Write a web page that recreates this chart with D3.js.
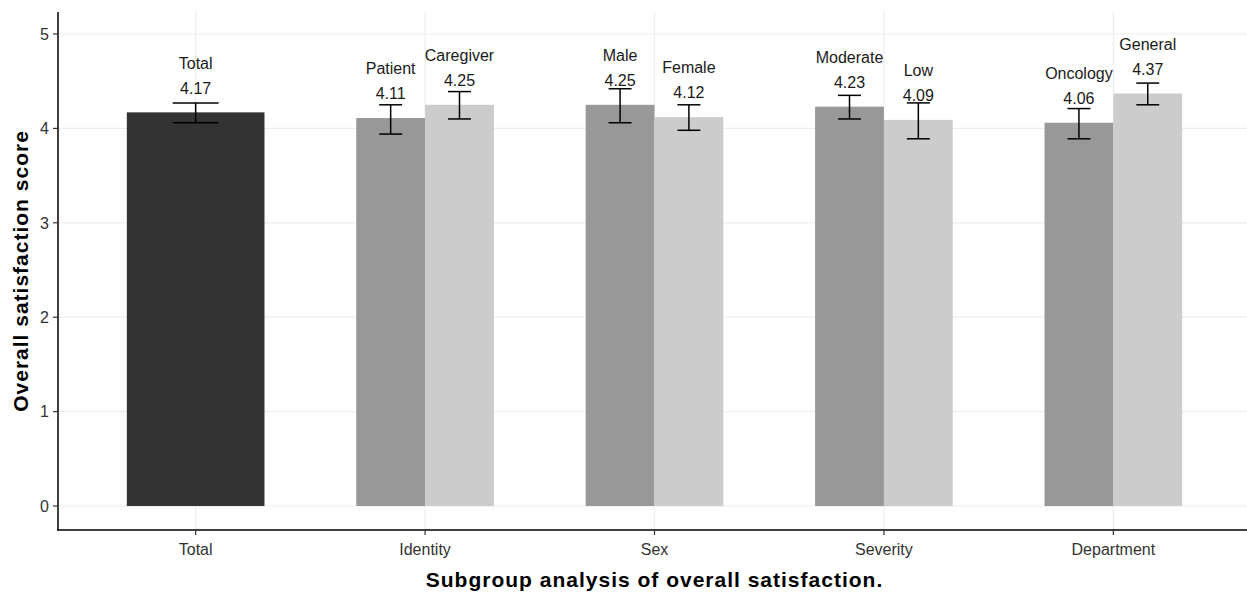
<!DOCTYPE html>
<html>
<head>
<meta charset="utf-8">
<script src="https://cdn.jsdelivr.net/npm/d3@7"></script>
<style>
  html, body { margin: 0; padding: 0; background: #fff; }
  svg { display: block; font-family: "Liberation Sans", Arial, sans-serif; }
</style>
</head>
<body>
<svg id="chart" width="1247" height="596"></svg>
<script>
// Subgroup categories along the x axis
const groups = ["Total", "Identity", "Sex", "Severity", "Department"];

// One entry per bar
const levels    = ["Total", "Patient", "Caregiver", "Male", "Female", "Moderate", "Low", "Oncology", "General"];
const levelGroup = ["Total", "Identity", "Identity", "Sex", "Sex", "Severity", "Severity", "Department", "Department"];
const levelFill  = ["overall", "first", "second", "first", "second", "first", "second", "first", "second"];
const means = [4.17, 4.11, 4.25, 4.25, 4.12, 4.23, 4.09, 4.06, 4.37];
const lower = [4.06, 3.94, 4.10, 4.06, 3.98, 4.10, 3.89, 3.89, 4.25];
const upper = [4.27, 4.25, 4.39, 4.42, 4.25, 4.35, 4.27, 4.21, 4.48];

const yTicks = [0, 1, 2, 3, 4, 5];

const fillColors = { overall: "#333333", first: "#989898", second: "#cccccc" };

const svg = d3.select("#chart");
const panel = { left: 58, right: 1251, top: 12, bottom: 530 };

const x = d3.scalePoint()
  .domain(groups)
  .range([panel.left, panel.right])
  .padding(0.6);
const step = x.step();

const y = d3.scaleLinear()
  .domain([-0.254, 5.233])
  .range([panel.bottom, panel.top]);

// Build bar records: position within its group (dodged pairs share one slot)
const bars = levels.map((name, i) => {
  const g = levelGroup[i];
  const members = levels.filter((_, j) => levelGroup[j] === g);
  const k = members.indexOf(name);
  const n = members.length;
  const total = step * 0.6;
  const w = total / n;
  const x0 = x(g) - total / 2 + k * w;
  return { name, group: g, fill: levelFill[i], mean: means[i], lo: lower[i], hi: upper[i], x0, w, n };
});

// Grid lines
const grid = svg.append("g");
grid.selectAll("line.gy").data(yTicks).join("line")
  .attr("x1", panel.left).attr("x2", 1247)
  .attr("y1", d => y(d)).attr("y2", d => y(d))
  .attr("stroke", "#ededed").attr("stroke-width", 1.2);
grid.selectAll("line.gx").data(groups).join("line")
  .attr("x1", d => x(d)).attr("x2", d => x(d))
  .attr("y1", panel.top).attr("y2", panel.bottom)
  .attr("stroke", "#ededed").attr("stroke-width", 1.2);

// Bars
svg.append("g").selectAll("rect").data(bars).join("rect")
  .attr("x", d => d.x0)
  .attr("width", d => d.w)
  .attr("y", d => y(d.mean))
  .attr("height", d => y(0) - y(d.mean))
  .attr("fill", d => fillColors[d.fill]);

// Error bars
const eb = svg.append("g").attr("stroke", "#000").attr("stroke-width", 1.5).attr("fill", "none");
bars.forEach(d => {
  const cx = d.x0 + d.w / 2;
  const half = (step * 0.2 / d.n) / 2;
  eb.append("line").attr("x1", cx).attr("x2", cx).attr("y1", y(d.lo)).attr("y2", y(d.hi));
  eb.append("line").attr("x1", cx - half).attr("x2", cx + half).attr("y1", y(d.hi)).attr("y2", y(d.hi));
  eb.append("line").attr("x1", cx - half).attr("x2", cx + half).attr("y1", y(d.lo)).attr("y2", y(d.lo));
});

// Value and name labels above each bar
const lab = svg.append("g").attr("text-anchor", "middle").attr("fill", "#1a1a1a").attr("font-size", 16);
bars.forEach(d => {
  const cx = d.x0 + d.w / 2;
  const vy = y(d.mean + 0.26);
  lab.append("text").attr("x", cx).attr("y", vy).attr("dy", "0.36em").text(d.mean.toFixed(2));
  lab.append("text").attr("x", cx).attr("y", vy - 25).attr("dy", "0.36em").text(d.name);
});

// Axes
const yAxis = svg.append("g");
yAxis.append("line").attr("x1", panel.left).attr("x2", panel.left)
  .attr("y1", panel.top).attr("y2", panel.bottom + 0.75)
  .attr("stroke", "#000").attr("stroke-width", 1.5);
yAxis.selectAll("line.t").data(yTicks).join("line")
  .attr("x1", panel.left - 5).attr("x2", panel.left)
  .attr("y1", d => y(d)).attr("y2", d => y(d))
  .attr("stroke", "#333").attr("stroke-width", 1.2);
yAxis.selectAll("text").data(yTicks).join("text")
  .attr("x", panel.left - 9).attr("y", d => y(d)).attr("dy", "0.36em")
  .attr("text-anchor", "end").attr("font-size", 16).attr("fill", "#333")
  .text(d => d);

const xAxis = svg.append("g");
xAxis.append("line").attr("x1", panel.left - 0.75).attr("x2", 1247)
  .attr("y1", panel.bottom).attr("y2", panel.bottom)
  .attr("stroke", "#000").attr("stroke-width", 1.5);
xAxis.selectAll("line.t").data(groups).join("line")
  .attr("x1", d => x(d)).attr("x2", d => x(d))
  .attr("y1", panel.bottom).attr("y2", panel.bottom + 5)
  .attr("stroke", "#333").attr("stroke-width", 1.2);
xAxis.selectAll("text").data(groups).join("text")
  .attr("x", d => x(d)).attr("y", panel.bottom + 19).attr("dy", "0.36em")
  .attr("text-anchor", "middle").attr("font-size", 16).attr("fill", "#333")
  .text(d => d);

// Axis titles
svg.append("text")
  .attr("x", (panel.left + panel.right) / 2).attr("y", 579).attr("dy", "0.36em")
  .attr("text-anchor", "middle").attr("font-size", 21).attr("font-weight", "bold")
  .attr("letter-spacing", 1).attr("fill", "#000")
  .text("Subgroup analysis of overall satisfaction.");
svg.append("text")
  .attr("transform", `translate(20,${(panel.top + panel.bottom) / 2}) rotate(-90)`)
  .attr("dy", "0.36em")
  .attr("text-anchor", "middle").attr("font-size", 21).attr("font-weight", "bold")
  .attr("letter-spacing", 1).attr("fill", "#000")
  .text("Overall satisfaction score");
</script>
</body>
</html>
